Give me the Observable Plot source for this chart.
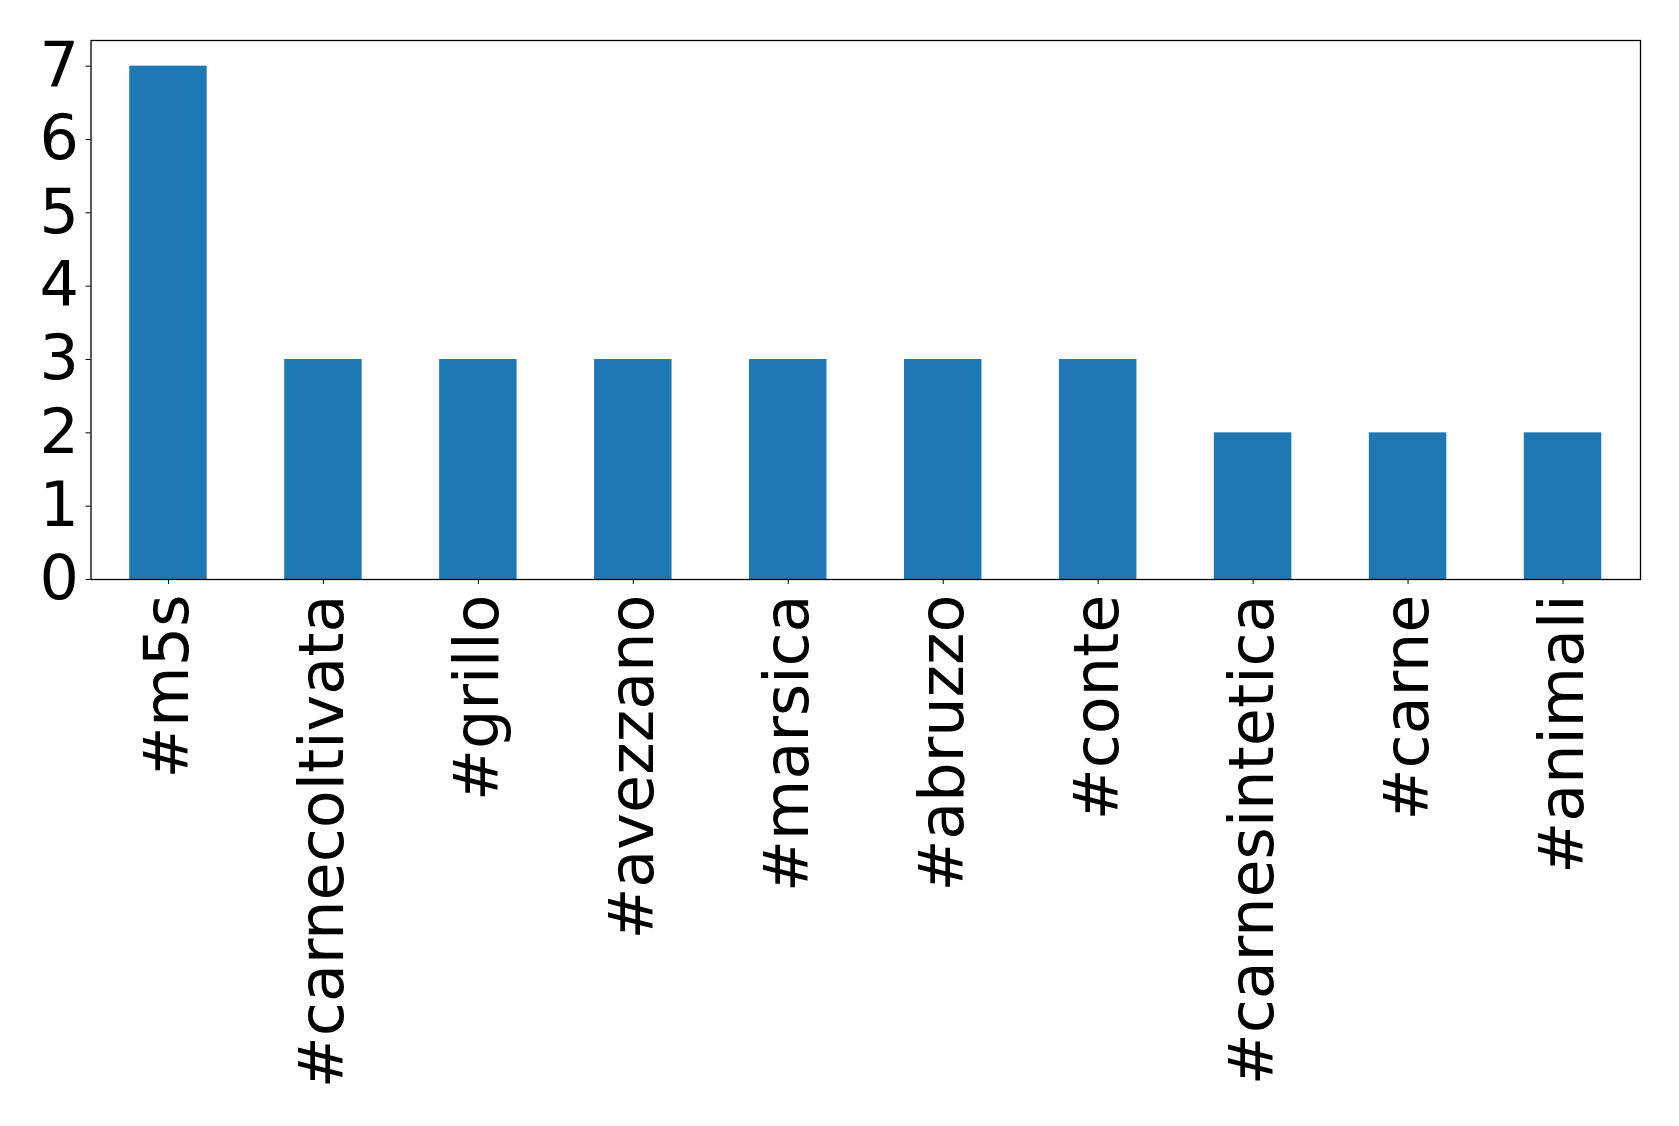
<!DOCTYPE html>
<html>
<head>
<meta charset="utf-8">
<script src="https://cdn.jsdelivr.net/npm/d3@7"></script>
<script src="https://cdn.jsdelivr.net/npm/@observablehq/plot@0.6"></script>
<style>
  html, body { margin: 0; padding: 0; background: #fff; }
  #chart svg { display: block; }
</style>
</head>
<body>
<div id="chart"></div>
<script>
const hashtags = ["#m5s", "#carnecoltivata", "#grillo", "#avezzano", "#marsica", "#abruzzo", "#conte", "#carnesintetica", "#carne", "#animali"];
const counts = [7, 3, 3, 3, 3, 3, 3, 2, 2, 2];
const yTicks = [0, 1, 2, 3, 4, 5, 6, 7];

const data = hashtags.map((h, i) => ({tag: h, count: counts[i]}));

const chart = Plot.plot({
  width: 1679,
  height: 1126,
  marginLeft: 90.5,
  marginRight: 39,
  marginTop: 40,
  marginBottom: 547,
  style: {fontFamily: "DejaVu Sans", background: "#fff", color: "#000"},
  x: {domain: hashtags, paddingInner: 0.5, paddingOuter: 0.25, align: 0.5, round: false},
  y: {domain: [0, 7.35]},
  marks: [
    Plot.barY(data, {x: "tag", y: "count", fill: "#1f77b4"}),
    Plot.frame({stroke: "#000", strokeWidth: 1.3}),
    Plot.axisX({tickRotate: -90, fontSize: 62, tickSize: 5, tickPadding: 10, label: null, stroke: "#000"}),
    Plot.axisY({ticks: yTicks, fontSize: 62, tickSize: 5, tickPadding: 7, label: null, tickFormat: d => String(d), stroke: "#000"})
  ]
});
document.getElementById("chart").appendChild(chart);
</script>
</body>
</html>
